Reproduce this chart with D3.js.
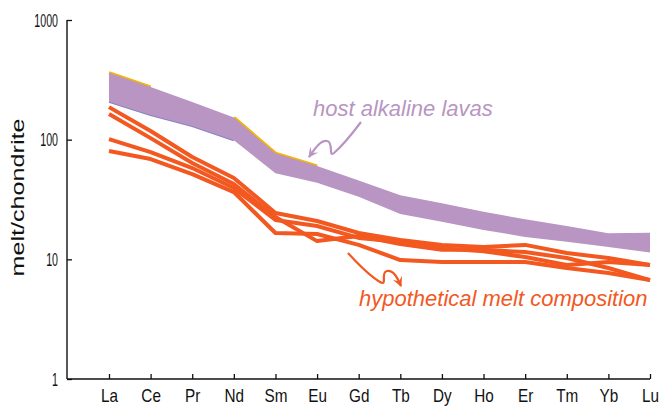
<!DOCTYPE html>
<html><head><meta charset="utf-8">
<script src="https://cdn.jsdelivr.net/npm/d3@7"></script>
<style>
body{margin:0;background:#fff}
svg{display:block}
text{font-family:"Liberation Sans",Arial,Helvetica,sans-serif}
</style>
</head><body>
<svg id="chart" width="662" height="408"></svg>
<script>
// ---- data ----
const elements = ["La","Ce","Pr","Nd","Sm","Eu","Gd","Tb","Dy","Ho","Er","Tm","Yb","Lu"];
const yTicks = [1, 10, 100, 1000];

// host alkaline lavas envelope (upper / lower edge)
const hostUpper = [362, 275, 206, 153, 76.9, 60.2, 45.5, 34.4, 29.4, 25.0, 21.6, 19.0, 16.5, 16.7];
const hostLower = [207, 161, 130, 99, 52.3, 43.6, 33.3, 23.9, 20.6, 17.6, 15.4, 14.0, 12.7, 11.4];
// individual host samples visible along the envelope edges
const hostSampleTop = [362, 275, null, 153, 76.9, 60.2, null, null, null, null, null, null, null, null];
const hostSampleLow = [207, 161, 130, 99, null, null, null, null, null, null, null, null, null, null];

// hypothetical melt compositions
const melt1 = [187, 118, 71.6, 47.8, 24.4, 20.9, 16.6, 14.5, 13.2, 12.7, 13.2, 11.3, 10.25, 8.96];
const melt2 = [164, 103, 63.8, 42.6, 22.6, 14.2, 15.7, 13.4, 12.0, 12.0, 11.5, 10.25, 8.46, 6.71];
const melt3 = [101, 78.8, 57.9, 39.4, 21.3, 19.0, 15.1, 14.0, 12.4, 11.7, 10.45, 8.96, 9.49, 8.96];
const melt4 = [80.3, 68.9, 51.6, 36.5, 16.6, 16.3, 13.2, 9.87, 9.49, 9.49, 9.49, 8.46, 7.68, 6.71];
const melts = [melt1, melt2, melt3, melt4];

// ---- layout ----
const svg = d3.select("#chart");
const mLeft = 67, mTop = 20, mBottom = 379;
const x = d3.scalePoint().domain(elements).range([109, 650]);
const y = d3.scaleLog().domain([1, 1000]).range([mBottom, mTop]);

const PURPLE = "#b895c2", ORANGE = "#f2581f", YELLOW = "#f7b500", SLATE = "#8a82c4";

// ---- marks ----
const area = d3.area()
  .x((d, i) => x(elements[i]))
  .y0((d, i) => y(hostLower[i]))
  .y1((d, i) => y(hostUpper[i]));

const line = d3.line()
  .defined(d => d != null)
  .x((d, i) => x(elements[i]))
  .y(d => y(d));

svg.append("path").attr("d", line(hostSampleTop))
  .attr("fill", "none").attr("stroke", YELLOW).attr("stroke-width", 3.4);
svg.append("path").attr("d", line(hostSampleLow))
  .attr("fill", "none").attr("stroke", SLATE).attr("stroke-width", 2);

svg.append("path").attr("d", area(hostUpper)).attr("fill", PURPLE);

svg.selectAll("path.melt").data(melts).enter().append("path")
  .attr("class", "melt")
  .attr("d", d => line(d))
  .attr("fill", "none").attr("stroke", ORANGE)
  .attr("stroke-width", 4).attr("stroke-linejoin", "round").attr("stroke-linecap", "butt");

// ---- axes ----
const xAxis = svg.append("g").attr("transform", `translate(0,${mBottom})`)
  .call(d3.axisBottom(x).tickSize(-5).tickSizeOuter(0).tickPadding(10));
xAxis.select(".domain").remove();
xAxis.selectAll("text").attr("font-size", 18).attr("fill", "#111").style("font-family", "'Liberation Sans',Arial,sans-serif")
  .attr("transform", "scale(0.85,1)");
xAxis.selectAll("line").attr("stroke", "#111").attr("stroke-width", 1.3);

const yAxis = svg.append("g").attr("transform", `translate(${mLeft},0)`)
  .call(d3.axisLeft(y).tickValues(yTicks).tickFormat(d3.format("d")).tickSize(-5).tickSizeOuter(0).tickPadding(10));
yAxis.select(".domain").remove();
yAxis.selectAll("text").attr("font-size", 19).attr("fill", "#111").style("font-family", "'Liberation Sans',Arial,sans-serif")
  .attr("x", 0)
  .attr("transform", "translate(-9,0) scale(0.56,1)");
yAxis.selectAll("line").attr("stroke", "#111").attr("stroke-width", 1.3);

svg.append("line").attr("x1", mLeft).attr("x2", mLeft).attr("y1", y.range()[1]).attr("y2", y.range()[0])
  .attr("stroke", "#111").attr("stroke-width", 1.4);
svg.append("line").attr("x1", mLeft).attr("x2", x.range()[1]).attr("y1", mBottom).attr("y2", mBottom)
  .attr("stroke", "#111").attr("stroke-width", 1.4);

svg.append("text")
  .attr("transform", `translate(24,${(mTop + mBottom) / 2 - 2}) rotate(-90)`)
  .attr("text-anchor", "middle").attr("font-size", 19).attr("fill", "#111")
  .attr("textLength", 158).attr("lengthAdjust", "spacingAndGlyphs")
  .text("melt/chondrite");

// ---- annotations ----
const defs = svg.append("defs");
function marker(id, color) {
  defs.append("marker").attr("id", id)
    .attr("viewBox", "-10 -6 12 12").attr("refX", 0).attr("refY", 0)
    .attr("markerWidth", 12).attr("markerHeight", 12)
    .attr("markerUnits", "userSpaceOnUse").attr("orient", "auto")
    .append("path").attr("d", "M1,0 L-9,-5 L-5,0 L-9,5 Z").attr("fill", color);
}
marker("mp", PURPLE);
marker("mo", ORANGE);

svg.append("text").attr("x", 313).attr("y", 116)
  .attr("font-size", 22).attr("font-style", "italic").attr("fill", PURPLE)
  .text("host alkaline lavas");
svg.append("path")
  .attr("d", "M361,122 C352,134 342,146 334,153 C328,158 334,142 327,141 C320,140 314,150 309,157")
  .attr("fill", "none").attr("stroke", PURPLE).attr("stroke-width", 2.2).attr("marker-end", "url(#mp)");

svg.append("text").attr("x", 359).attr("y", 306)
  .attr("font-size", 22).attr("font-style", "italic").attr("fill", ORANGE)
  .text("hypothetical melt composition");
svg.append("path")
  .attr("d", "M348,253 C358,264 370,276 380,282 C388,287 380,272 387,271 C394,270 398,279 401,286")
  .attr("fill", "none").attr("stroke", ORANGE).attr("stroke-width", 2.2).attr("marker-end", "url(#mo)");
</script>
</body></html>
